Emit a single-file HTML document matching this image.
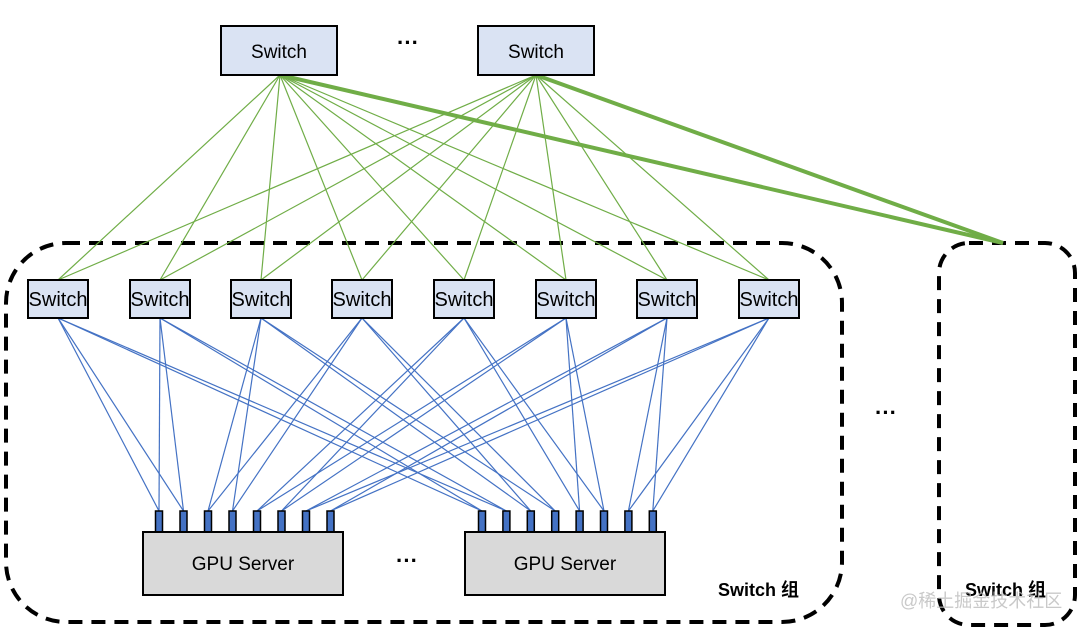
<!DOCTYPE html>
<html><head><meta charset="utf-8"><style>
html,body{margin:0;padding:0;background:#fff;}
svg{display:block;}
text{font-family:"Liberation Sans","Noto Sans CJK SC",sans-serif;}
</style></head><body>
<svg width="1080" height="629" viewBox="0 0 1080 629" xmlns="http://www.w3.org/2000/svg">
<rect x="6" y="243" width="836" height="379" rx="60" ry="60" fill="none" stroke="#000" stroke-width="4" stroke-dasharray="14,9"/>
<rect x="939" y="243" width="136" height="382" rx="30" ry="30" fill="none" stroke="#000" stroke-width="4" stroke-dasharray="14,9"/>
<g id="green" stroke="#70ad47" stroke-width="1.2">
</g>
<g id="blue" stroke="#4472c4" stroke-width="1.2">
</g>
<line x1="280" y1="75" x2="1003" y2="243" stroke="#70ad47" stroke-width="4"/>
<line x1="536" y1="75" x2="1003" y2="243" stroke="#70ad47" stroke-width="4"/>
<g id="boxes"></g>
<rect x="221" y="26" width="116" height="49" fill="#dae3f3" stroke="#000" stroke-width="2"/>
<text x="279" y="58" font-size="19" text-anchor="middle">Switch</text>
<rect x="478" y="26" width="116" height="49" fill="#dae3f3" stroke="#000" stroke-width="2"/>
<text x="536" y="58" font-size="19" text-anchor="middle">Switch</text>
<text x="408" y="50" font-size="22" text-anchor="middle" font-weight="bold">···</text>
<rect x="143" y="532" width="200" height="63" fill="#d9d9d9" stroke="#000" stroke-width="2"/>
<text x="243" y="570" font-size="19" text-anchor="middle">GPU Server</text>
<rect x="465" y="532" width="200" height="63" fill="#d9d9d9" stroke="#000" stroke-width="2"/>
<text x="565" y="570" font-size="19" text-anchor="middle">GPU Server</text>
<text x="407" y="568" font-size="22" text-anchor="middle" font-weight="bold">···</text>
<text x="886" y="420" font-size="22" text-anchor="middle" font-weight="bold">···</text>
<text x="718" y="596" font-size="18" font-weight="bold">Switch 组</text>
<text x="965" y="596" font-size="18" font-weight="bold">Switch 组</text>
<text x="900" y="607" font-size="18" fill="#bbb" fill-opacity="0.8">@稀土掘金技术社区</text>
<script>
var ns="http://www.w3.org/2000/svg";
function el(p,n,a){var e=document.createElementNS(ns,n);for(var k in a)e.setAttribute(k,a[k]);p.appendChild(e);return e;}
var leaf=[58,160,261,362,464,566,667,769];
var g=document.getElementById('green'),b=document.getElementById('blue'),bx=document.getElementById('boxes');
leaf.forEach(function(x){
 el(g,'line',{x1:280,y1:75,x2:x,y2:280});
 el(g,'line',{x1:536,y1:75,x2:x,y2:280});
});
var p1=[],p2=[];
for(var i=0;i<8;i++){p1.push(159+24.5*i);p2.push(482+24.4*i);}
leaf.forEach(function(x,k){
 var a=Math.floor(k/2)*2;
 [p1[a],p1[a+1],p2[a],p2[a+1]].forEach(function(px){
  el(b,'line',{x1:x,y1:318,x2:px,y2:511});
 });
});
leaf.forEach(function(x){
 el(bx,'rect',{x:x-30,y:280,width:60,height:38,fill:'#dae3f3',stroke:'#000','stroke-width':2});
 var t=el(bx,'text',{x:x,y:306,'font-size':20,'text-anchor':'middle'});t.textContent='Switch';
});
p1.concat(p2).forEach(function(px){
 el(bx,'rect',{x:px-3.5,y:511,width:7,height:21,fill:'#4472c4',stroke:'#000','stroke-width':1.5});
});
</script>
</svg>
</body></html>
